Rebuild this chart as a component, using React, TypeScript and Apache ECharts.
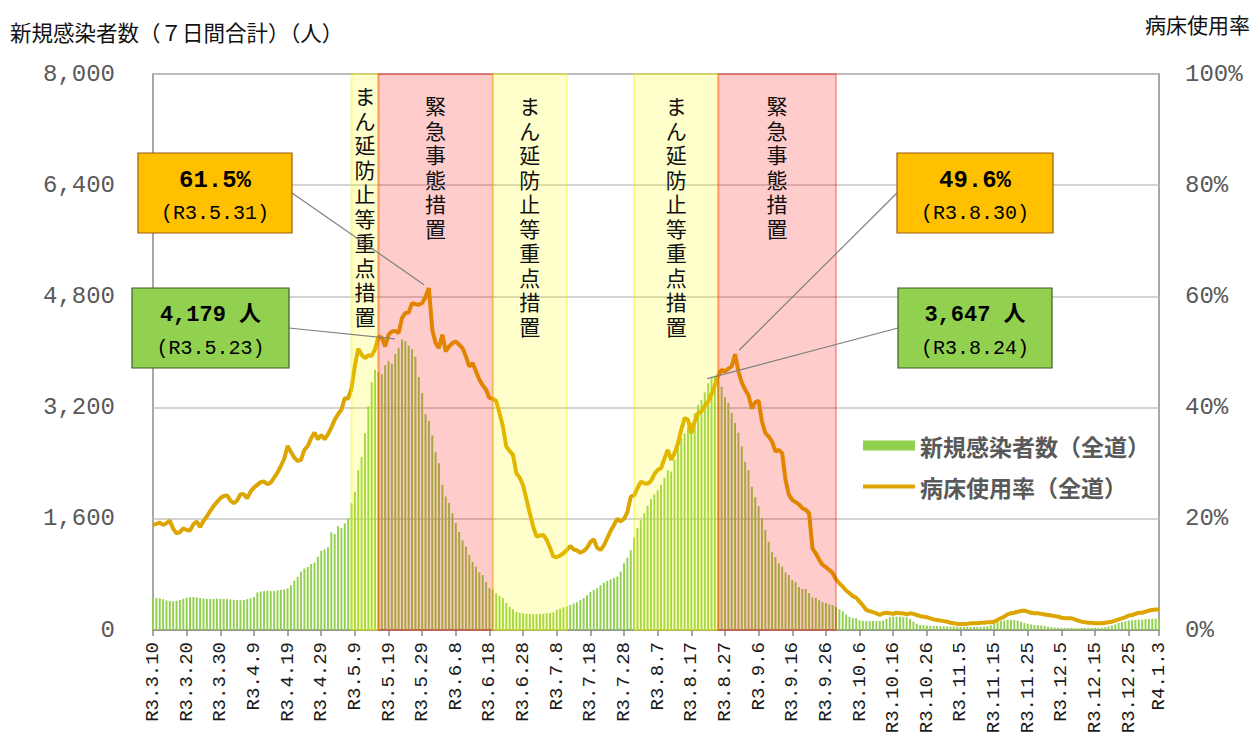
import React, { useEffect, useRef } from 'react';
import * as echarts from 'echarts';

// ---------- categories (daily, R3.3.10 .. R4.1.3) ----------
const START_UTC = Date.UTC(2021, 2, 10);
const DAY_COUNT = 300;
const categories: string[] = [];
for (let i = 0; i < DAY_COUNT; i++) {
  const d = new Date(START_UTC + i * 86400000);
  categories.push(`R${d.getUTCFullYear() - 2018}.${d.getUTCMonth() + 1}.${d.getUTCDate()}`);
}

// ---------- series values ----------
const newCases = [
  460, 458, 455, 445, 425, 418, 415, 420, 432, 450,
  465, 472, 475, 468, 458, 452, 448, 445, 448, 452,
  450, 448, 446, 440, 435, 430, 428, 432, 445, 455,
  475, 540, 552, 560, 565, 560, 562, 570, 578, 582,
  600, 645, 710, 765, 840, 885, 905, 950, 970, 1055,
  1140, 1160, 1190, 1405, 1380, 1495, 1465, 1535, 1605, 1825,
  1990, 2300, 2490, 2830, 3220, 3570, 3740, 3710, 3680, 3810,
  3870, 3830, 3970, 4060, 4179, 4160, 4090, 4040, 3930, 3640,
  3410, 3110, 3010, 2800, 2560, 2400, 2090, 1920, 1830, 1680,
  1540, 1410, 1290, 1200, 1080, 980, 910, 830, 790, 690,
  600, 580, 530, 490, 460, 390, 330, 300, 260, 250,
  240, 235, 230, 228, 230, 232, 235, 240, 245, 255,
  290, 305, 325, 340, 360, 380, 400, 430, 460, 500,
  550, 575, 600, 645, 680, 705, 730, 750, 770, 840,
  960, 1040, 1150, 1330, 1470, 1580, 1680, 1790, 1880, 1950,
  2010, 2090, 2190, 2300, 2280, 2450, 2620, 2760, 2830, 2920,
  2980, 3120, 3240, 3310, 3420, 3550, 3630, 3647, 3600, 3500,
  3350, 3270, 3120, 2980, 2840, 2640, 2420, 2300, 2060, 1910,
  1780, 1610, 1440, 1270, 1120, 1050, 960, 910, 830, 790,
  720, 690, 620, 590, 590, 530, 470, 460, 430, 400,
  390, 370, 360, 330, 300, 270, 220, 190, 170, 170,
  140, 130, 130, 130, 128, 130, 132, 135, 160, 185,
  190, 192, 190, 188, 185, 160, 120, 90, 70, 68,
  65, 62, 60, 58, 56, 55, 52, 50, 50, 48,
  48, 47, 46, 45, 45, 46, 48, 50, 55, 70,
  95, 110, 130, 140, 145, 145, 140, 135, 120, 100,
  90, 80, 72, 68, 65, 60, 50, 40, 35, 32,
  30, 30, 28, 28, 27, 27, 28, 28, 30, 30,
  32, 32, 35, 40, 50, 65, 80, 100, 115, 125,
  135, 140, 145, 150, 150, 155, 158, 160, 162, 165,
];

const bedRate = [
  18.9, 19.1, 19.3, 18.9, 19.2, 19.7, 18.2, 17.4, 17.6, 18.3,
  18.0, 17.9, 19.0, 19.5, 18.5, 19.6, 20.4, 21.4, 22.3, 23.0,
  23.7, 24.1, 24.2, 23.3, 22.8, 23.3, 24.4, 24.4, 23.7, 24.9,
  25.6, 26.1, 26.6, 26.7, 26.2, 26.5, 27.4, 28.3, 29.5, 30.8,
  33.1, 32.0, 31.0, 30.4, 30.6, 32.4, 33.1, 34.5, 35.5, 34.3,
  35.1, 34.3, 35.2, 36.4, 37.8, 38.8, 39.6, 41.7, 41.6, 43.5,
  47.5, 50.6, 49.5, 48.9, 49.4, 49.3, 50.5, 52.8, 52.6, 51.0,
  53.1, 53.7, 53.8, 53.4, 56.1, 57.0, 57.1, 58.8, 58.6, 58.5,
  58.8, 59.9, 61.5, 54.0, 51.6, 50.7, 53.1, 50.1, 51.0, 51.6,
  51.9, 51.3, 50.7, 49.2, 47.4, 48.0, 46.5, 45.0, 44.0, 43.2,
  41.7, 41.6, 41.2, 39.0, 36.6, 33.0, 32.2, 31.5, 28.2, 27.4,
  26.0, 23.5, 21.0, 18.6, 16.8, 17.0, 17.1, 16.2, 14.8, 13.2,
  13.1, 13.4, 13.8, 14.4, 15.1, 14.5, 14.3, 13.9, 14.2, 14.8,
  15.8, 16.3, 14.8, 14.4, 15.2, 16.5, 17.8, 18.9, 20.0, 19.5,
  20.0, 21.2, 24.0, 24.2, 25.5, 26.7, 26.4, 26.3, 26.8, 28.0,
  28.8, 29.1, 30.8, 32.4, 30.6, 31.8, 33.5, 36.0, 38.1, 37.8,
  35.4, 37.5, 39.0, 39.3, 40.3, 41.1, 42.4, 44.0, 45.8, 46.8,
  46.5, 47.0, 47.4, 49.6, 46.5, 44.5, 43.2, 42.2, 39.8, 41.0,
  41.2, 37.5, 35.4, 34.8, 33.9, 32.1, 32.4, 31.8, 27.0, 24.3,
  23.4, 23.0, 22.6, 21.9, 21.6, 21.0, 14.7, 13.8, 12.6, 11.7,
  11.3, 10.8, 10.2, 9.1, 8.4, 7.8, 7.1, 6.6, 6.1, 5.8,
  5.1, 4.4, 3.6, 3.4, 3.2, 3.0, 2.7, 3.0, 3.1, 3.0,
  2.9, 3.1, 3.0, 3.0, 2.8, 3.0, 2.9, 2.7, 2.5, 2.4,
  2.3, 2.1, 1.9, 1.8, 1.7, 1.6, 1.5, 1.3, 1.2, 1.1,
  1.1, 1.1, 1.1, 1.2, 1.2, 1.2, 1.3, 1.3, 1.4, 1.4,
  1.5, 1.8, 2.1, 2.4, 2.8, 3.0, 3.1, 3.3, 3.4, 3.5,
  3.3, 3.1, 3.0, 3.0, 2.9, 2.8, 2.7, 2.6, 2.5, 2.4,
  2.2, 2.1, 2.1, 2.1, 1.9, 1.7, 1.5, 1.4, 1.3, 1.3,
  1.2, 1.2, 1.2, 1.3, 1.4, 1.5, 1.7, 1.9, 2.1, 2.3,
  2.6, 2.7, 2.9, 3.1, 3.1, 3.3, 3.5, 3.6, 3.7, 3.7,
];

// ---------- measures (periods) ----------
const measureNames = ['まん延防止等重点措置', '緊急事態措置', 'まん延防止等重点措置', 'まん延防止等重点措置', '緊急事態措置'];
const measureFrom = ['R3.5.8', 'R3.5.16', 'R3.6.19', 'R3.7.31', 'R3.8.25'];
const measureTo = ['R3.5.16', 'R3.6.19', 'R3.7.11', 'R3.8.25', 'R3.9.29'];
const measureKind = ['yellow', 'red', 'yellow', 'yellow', 'red'];

// ---------- axis ticks ----------
const casesTicks = [0, 1600, 3200, 4800, 6400, 8000];
const rateTicks = [0, 20, 40, 60, 80, 100];

// ---------- callouts (data index refs) ----------
const calloutSeries = ['rate', 'cases', 'rate', 'cases'];
const calloutIndex = [82, 74, 173, 167];

const SERIES_CASES = '新規感染者数（全道）';
const SERIES_RATE = '病床使用率（全道）';

const MONO = '"Liberation Mono", "Noto Sans CJK JP", monospace';
const JP = '"Noto Sans CJK JP", "Noto Sans", sans-serif';

// layout of callout boxes
const calloutLayout = [
  { x: 138, y: 153, w: 154, h: 80, side: 'right', gap: 6 },
  { x: 132, y: 288, w: 157, h: 80, side: 'right', gap: 7 },
  { x: 897, y: 153, w: 156, h: 80, side: 'left', gap: 6 },
  { x: 898, y: 288, w: 154, h: 80, side: 'left', gap: -8 },
];

export default function App() {
  const ref = useRef<HTMLDivElement>(null);

  useEffect(() => {
    const el = ref.current as HTMLDivElement;
    const chart = echarts.init(el, null, { renderer: 'svg' });

    const bandStyle: Record<string, any> = {
      yellow: { color: 'rgba(255,255,0,0.2)', borderColor: 'rgba(240,240,0,0.35)', borderWidth: 2 },
      red: { color: 'rgba(255,0,0,0.2)', borderColor: 'rgba(255,0,0,0.3)', borderWidth: 2 },
    };

    const markAreaData = measureNames.map((name, i) => [
      {
        name,
        xAxis: measureFrom[i],
        itemStyle: bandStyle[measureKind[i]],
        label: { distance: i === 0 ? 10 : 20 },
      },
      { xAxis: measureTo[i] },
    ]);

    const tickInterval = (index: number) => index % 10 === 0 || index === DAY_COUNT - 1;

    chart.setOption({
      animation: false,
      backgroundColor: '#ffffff',
      title: [
        {
          text: '新規感染者数（７日間合計）（人）',
          left: 10,
          top: 21,
          padding: 0,
          textStyle: { fontFamily: JP, fontSize: 21.5, fontWeight: 'normal', color: '#111' },
        },
        {
          text: '病床使用率',
          left: 1145,
          top: 13,
          padding: 0,
          textStyle: { fontFamily: JP, fontSize: 21, fontWeight: 'normal', color: '#111' },
        },
      ],
      legend: {
        orient: 'vertical',
        left: 861,
        top: 434,
        padding: 0,
        itemWidth: 52,
        itemHeight: 10,
        itemGap: 18,
        selectedMode: false,
        data: [
          { name: SERIES_CASES, icon: 'rect' },
          { name: SERIES_RATE, itemStyle: { opacity: 0 }, lineStyle: { width: 4 } },
        ],
        textStyle: { fontFamily: JP, fontSize: 23, fontWeight: 'bold', color: '#595959' },
      },
      grid: {
        left: 153,
        right: 94,
        top: 74,
        bottom: 106,
        outerBoundsMode: 'none',
        containLabel: false,
        show: true,
        borderColor: '#8A8A8A',
        borderWidth: 1.5,
        backgroundColor: 'transparent',
      },
      xAxis: {
        type: 'category',
        data: categories,
        boundaryGap: false,
        axisLine: { show: true, lineStyle: { color: '#8A8A8A', width: 1.5 } },
        axisTick: { show: true, interval: tickInterval, length: 6, lineStyle: { color: '#8A8A8A', width: 1.5 } },
        axisLabel: {
          interval: tickInterval,
          rotate: 90,
          margin: 12,
          fontFamily: MONO,
          fontSize: 19,
          color: '#1a1a1a',
        },
        splitLine: { show: false },
      },
      yAxis: [
        {
          type: 'value',
          min: casesTicks[0],
          max: casesTicks[casesTicks.length - 1],
          interval: casesTicks[1] - casesTicks[0],
          axisLine: { show: false },
          axisTick: { show: false },
          axisLabel: {
            margin: 38,
            fontFamily: MONO,
            fontSize: 24,
            color: '#595959',
            formatter: (v: number) => v.toLocaleString('en-US'),
          },
          splitLine: { show: true, lineStyle: { color: '#C4C4C4', width: 1.5 } },
        },
        {
          type: 'value',
          min: rateTicks[0],
          max: rateTicks[rateTicks.length - 1],
          interval: rateTicks[1] - rateTicks[0],
          position: 'right',
          axisLine: { show: false },
          axisTick: { show: false },
          axisLabel: {
            margin: 26,
            fontFamily: MONO,
            fontSize: 24,
            color: '#595959',
            formatter: (v: number) => `${v}%`,
          },
          splitLine: { show: false },
        },
      ],
      series: [
        {
          name: SERIES_CASES,
          type: 'bar',
          data: newCases,
          barWidth: '58%',
          itemStyle: { color: '#92D050' },
          z: 2,
        },
        {
          name: SERIES_RATE,
          type: 'line',
          yAxisIndex: 1,
          data: bedRate,
          symbol: 'none',
          showSymbol: false,
          lineStyle: { width: 4, color: '#DCA500' },
          itemStyle: { color: '#DCA500' },
          z: 3,
          markArea: {
            silent: true,
            z: 10,
            label: {
              show: true,
              position: 'insideTop',
              fontFamily: JP,
              fontSize: 21,
              lineHeight: 24.5,
              color: '#111',
              formatter: (p: any) => String(p.name).split('').join('\n'),
            },
            data: markAreaData,
          },
        },
      ],
    });

    // callouts
    const graphics: any[] = [];
    calloutSeries.forEach((kind, k) => {
      const idx = calloutIndex[k];
      const L = calloutLayout[k];
      const isRate = kind === 'rate';
      const val = isRate ? bedRate[idx] : newCases[idx];
      const p = chart.convertToPixel({ seriesIndex: isRate ? 1 : 0 }, [idx, val]) as number[];
      const sx = L.side === 'right' ? L.x + L.w : L.x;
      const sy = L.y + L.h / 2;
      const dx = p[0] - sx;
      const dy = p[1] - sy;
      const len = Math.sqrt(dx * dx + dy * dy);
      const ex = p[0] - (dx / len) * L.gap;
      const ey = p[1] - (dy / len) * L.gap;
      const line1 = isRate ? `${val.toFixed(1)}%` : `${val.toLocaleString('en-US')} 人`;
      const line2 = `(${categories[idx]})`;
      graphics.push(
        {
          type: 'line',
          z: 100,
          shape: { x1: sx, y1: sy, x2: ex, y2: ey },
          style: { stroke: '#808080', lineWidth: 1.2 },
          silent: true,
        },
        {
          type: 'rect',
          z: 101,
          shape: { x: L.x, y: L.y, width: L.w, height: L.h },
          style: {
            fill: isRate ? '#FFC000' : '#92D050',
            stroke: isRate ? '#9E5A12' : '#3E5F2B',
            lineWidth: 1.2,
          },
          silent: true,
        },
        {
          type: 'text',
          z: 102,
          x: L.x + L.w / 2,
          y: L.y + 27,
          style: {
            text: line1,
            fill: '#000',
            font: `bold ${isRate ? 24 : 22}px ${MONO}`,
            textAlign: 'center',
            textVerticalAlign: 'middle',
          },
          silent: true,
        },
        {
          type: 'text',
          z: 102,
          x: L.x + L.w / 2,
          y: L.y + 60,
          style: {
            text: line2,
            fill: '#000',
            font: `20px ${MONO}`,
            textAlign: 'center',
            textVerticalAlign: 'middle',
          },
          silent: true,
        }
      );
    });
    chart.setOption({ graphic: graphics });

    return () => {
      chart.dispose();
    };
  }, []);

  return (
    <div
      ref={ref}
      style={{ position: 'fixed', left: 0, top: 0, width: 1253, height: 736, background: '#fff' }}
    />
  );
}
